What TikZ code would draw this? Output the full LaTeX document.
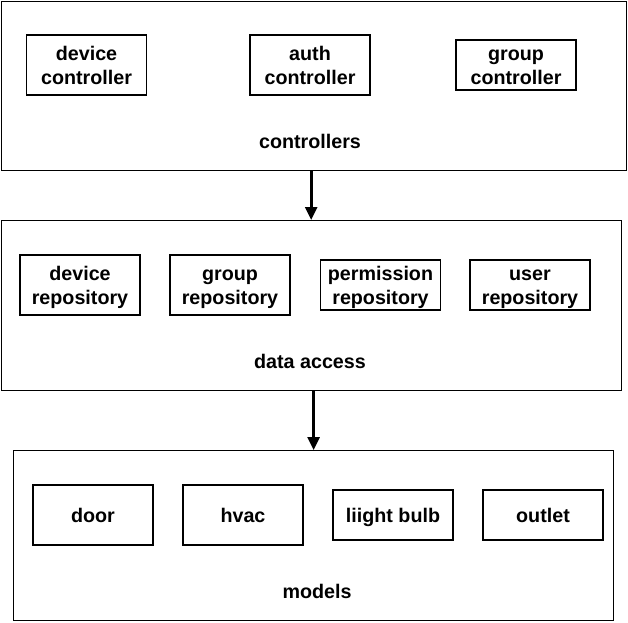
\documentclass[tikz,border=0pt]{standalone}
\usepackage{fontspec}
\setmainfont{Liberation Sans}
\usetikzlibrary{arrows.meta}
\newcommand{\ls}{\rule[-5pt]{0pt}{24pt}}

\begin{document}
\begin{tikzpicture}[x=1pt,y=-1pt,
  layer/.style={draw,line width=1.2pt,inner sep=0pt,anchor=north west},
  part/.style={draw,line width=1.2pt,inner sep=0pt,minimum width=120pt,align=center,
    font=\bfseries\fontsize{19.7}{24}\selectfont},
  title/.style={anchor=base,font=\bfseries\fontsize{19.7}{24}\selectfont},
  flow/.style={line width=2.6pt,-{Triangle[length=13pt,width=12pt]}}]
\useasboundingbox (0,0) rectangle (628,622);
% layers
\node[layer,minimum width=625pt,minimum height=169pt] (ctrl) at (0.6,0.6) {};
\node[layer,minimum width=620pt,minimum height=169.5pt] (data) at (0.6,220) {};
\node[layer,minimum width=600pt,minimum height=170pt] (models) at (13,450) {};
\node[title] (ctrltitle) at (310,148) {controllers};
\node[title] (datatitle) at (310,368) {data access};
\node[title] (modelstitle) at (317,598) {models};
% controllers
\node[part,minimum height=60pt] (devctrl) at (86.5,65) {\ls device\\\ls controller};
\node[part,minimum height=60pt] (authctrl) at (310,65) {\ls auth\\\ls controller};
\node[part,minimum height=50pt] (groupctrl) at (516,65) {\ls group\\\ls controller};
% repositories
\node[part,minimum height=60pt] (devrepo) at (80,285) {\ls device\\\ls repository};
\node[part,minimum height=60pt] (grouprepo) at (230,285) {\ls group\\\ls repository};
\node[part,minimum height=50pt] (permrepo) at (380.5,285) {\ls permission\\\ls repository};
\node[part,minimum height=50pt] (userrepo) at (530,285) {\ls user\\\ls repository};
% models
\node[part,minimum height=60pt] (door) at (93,515) {\ls door};
\node[part,minimum height=60pt] (hvac) at (243,515) {\ls hvac};
\node[part,minimum height=50pt] (bulb) at (393,515) {\ls liight bulb};
\node[part,minimum height=50pt] (outlet) at (543,515) {\ls outlet};
% arrows
\draw[flow] (data.north |- ctrl.south) -- (data.north);
\draw[flow] (models.north |- data.south) -- (models.north);
\end{tikzpicture}
\end{document}
